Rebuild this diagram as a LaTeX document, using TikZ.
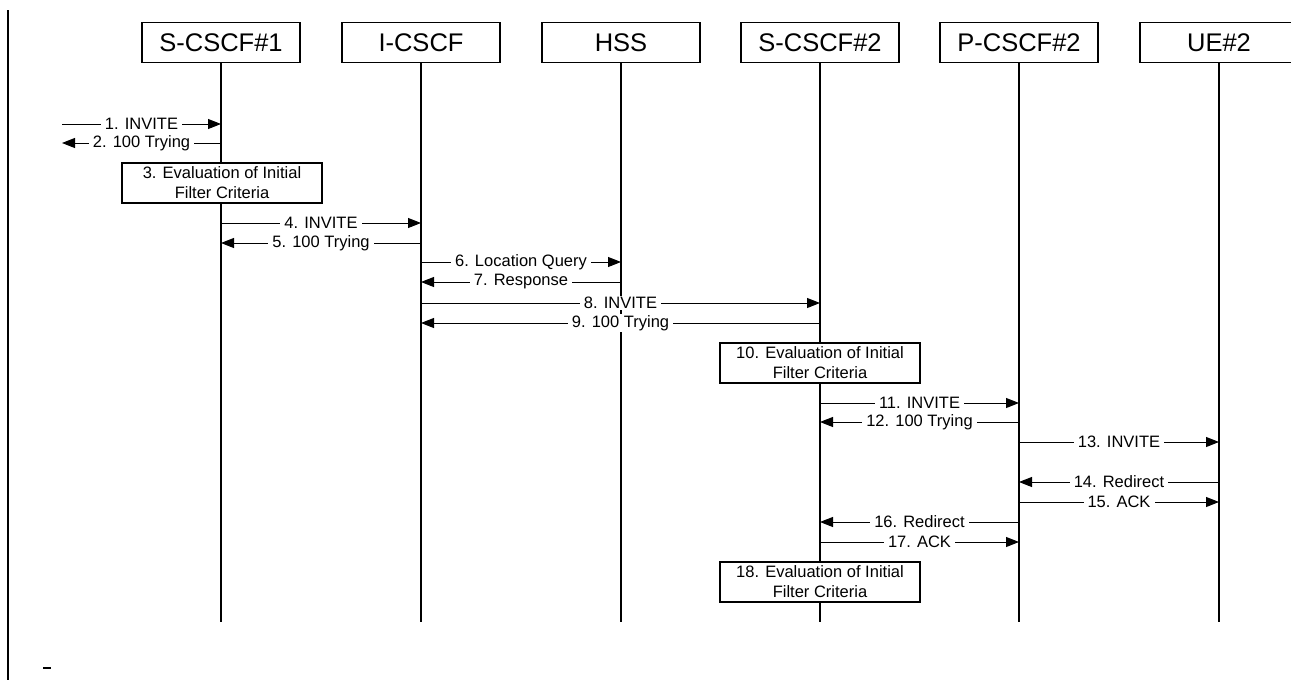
\documentclass[tikz,border=0pt]{standalone}
\usepackage{fontspec}
\setmainfont{Liberation Sans}
\usetikzlibrary{arrows.meta}

\tikzset{
  head/.style={draw, line width=1.2pt, minimum width=158pt, minimum height=40pt,
    inner sep=0pt, font=\fontsize{25.5}{30}\selectfont},
  procbox/.style={draw, line width=1.2pt, minimum width=200pt, minimum height=40pt,
    inner sep=0pt, align=center, font=\fontsize{16.5}{20}\selectfont, fill=white},
  life/.style={line width=1.1pt},
  msg/.style={line width=1pt, -{Triangle[length=13pt,width=10pt]}},
  lbl/.style={fill=white, inner xsep=4pt, inner ysep=1pt,
    font=\fontsize{16.5}{20}\selectfont},
}

% one message between two lifelines at height #1
\newcommand\sigmsg[4]{\draw[msg] (#2 |- 0,#1) -- node[lbl]{#4} (#3 |- 0,#1);}

\begin{document}
\begin{tikzpicture}[x=1pt, y=-1pt]
  \useasboundingbox (0,0) rectangle (1291,680);
  \fill[white] (0,0) rectangle (1291,680);

  % frame edge on the left and the stray dash
  \draw[line width=2pt] (8,10) -- (8,680);
  \draw[line width=2.5pt] (43,668) -- (51,668);

  % entities
  \node[head] (s1)  at (221,42.5)  {S-CSCF\#1};
  \node[head] (ic)  at (421,42.5)  {I-CSCF};
  \node[head] (hss) at (621,42.5)  {HSS};
  \node[head] (s2)  at (820,42.5)  {S-CSCF\#2};
  \node[head] (p2)  at (1019,42.5) {P-CSCF\#2};
  \node[head] (ue)  at (1219,42.5) {UE\#2};

  % lifelines
  \foreach \n in {s1,ic,hss,s2,p2,ue}
    \draw[life] (\n.south) -- (\n.south |- 0,622);

  % outside origin of the first request
  \coordinate (ext) at (62,124);

  \sigmsg{124}{ext}{s1}{1. INVITE}
  \sigmsg{143}{s1}{ext}{2. 100 Trying}

  \node[procbox] (ifc1) at (222,183) {3. Evaluation of Initial\\Filter Criteria};

  \sigmsg{223}{s1}{ic}{4. INVITE}
  \sigmsg{243}{ic}{s1}{5. 100 Trying}
  \sigmsg{262}{ic}{hss}{6. Location Query}
  \sigmsg{282}{hss}{ic}{7. Response}
  \sigmsg{303}{ic}{s2}{8. INVITE}
  \sigmsg{323}{s2}{ic}{9. 100 Trying}

  \node[procbox] (ifc2) at (820,363) {10. Evaluation of Initial\\Filter Criteria};

  \sigmsg{403}{s2}{p2}{11. INVITE}
  \sigmsg{422}{p2}{s2}{12. 100 Trying}
  \sigmsg{442}{p2}{ue}{13. INVITE}
  \sigmsg{482}{ue}{p2}{14. Redirect}
  \sigmsg{502}{p2}{ue}{15. ACK}
  \sigmsg{522}{p2}{s2}{16. Redirect}
  \sigmsg{542}{s2}{p2}{17. ACK}

  \node[procbox] (ifc3) at (820,582) {18. Evaluation of Initial\\Filter Criteria};
\end{tikzpicture}
\end{document}
